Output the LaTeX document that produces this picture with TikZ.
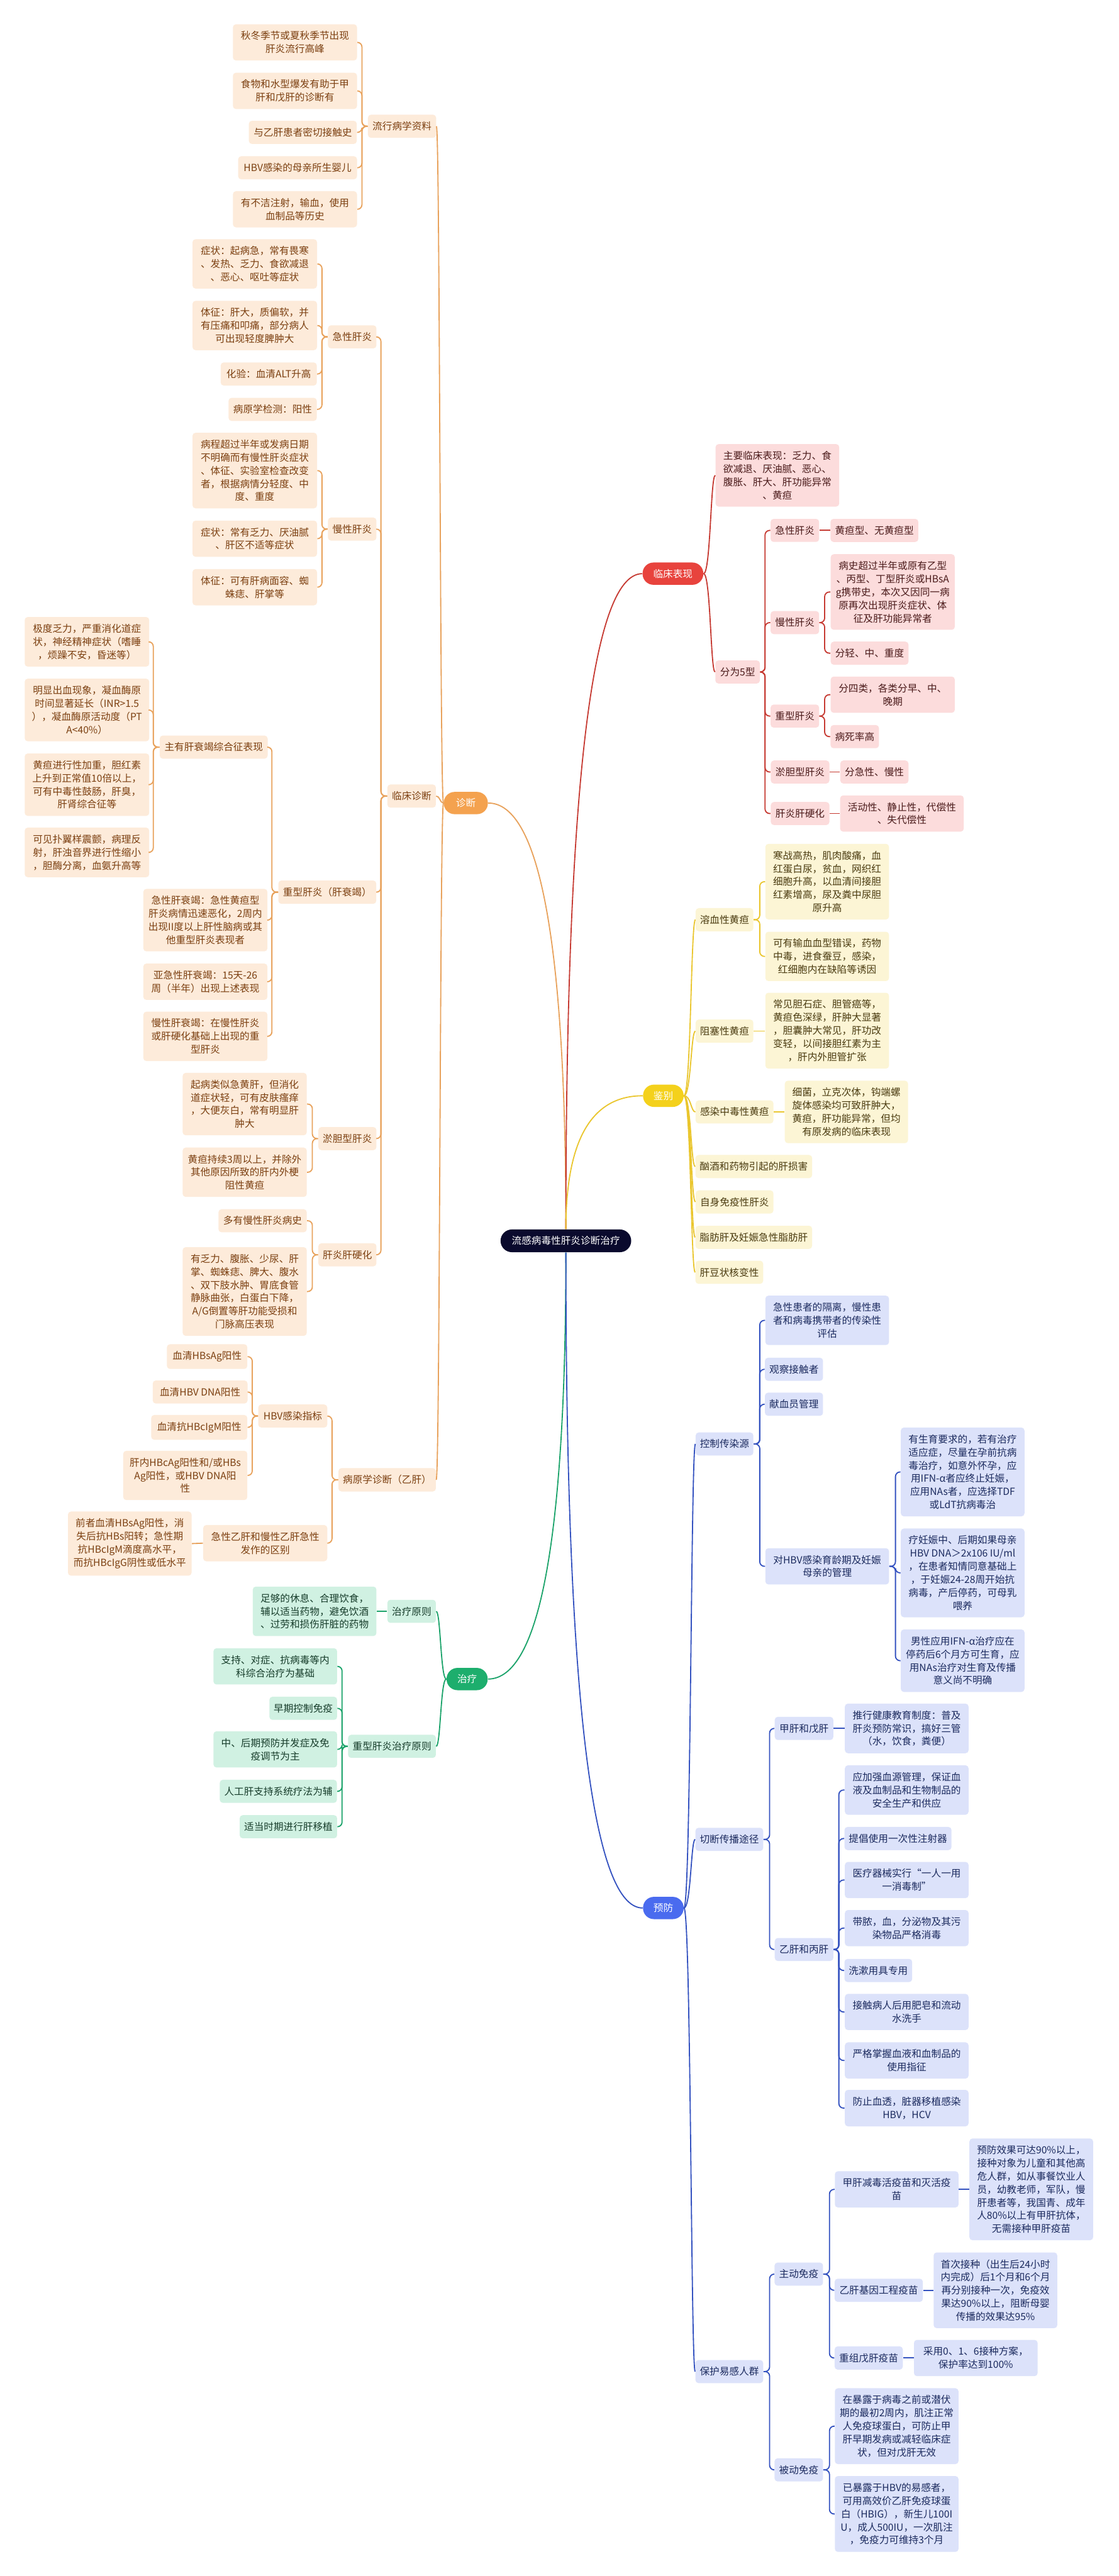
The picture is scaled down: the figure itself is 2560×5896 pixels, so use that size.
\documentclass[tikz,border=0pt]{standalone}
\usepackage{fontspec}
\setmainfont{Noto Sans CJK SC}
\usetikzlibrary{calc}
\newcommand\mmfs{\fontsize{6.4pt}{8.54pt}\selectfont}
\definecolor{oF}{HTML}{FDEBDA}\definecolor{oT}{HTML}{7B3F10}\definecolor{oL}{HTML}{E8A25C}\definecolor{oN}{HTML}{F4A24F}
\definecolor{rF}{HTML}{FCDCDC}\definecolor{rT}{HTML}{4A1A1A}\definecolor{rL}{HTML}{C63A32}\definecolor{rN}{HTML}{E8433D}
\definecolor{yF}{HTML}{FCF5D5}\definecolor{yT}{HTML}{4A3B10}\definecolor{yL}{HTML}{EAC62E}\definecolor{yN}{HTML}{F4D11C}
\definecolor{gF}{HTML}{D0F1E2}\definecolor{gT}{HTML}{173D2B}\definecolor{gL}{HTML}{1BA36A}\definecolor{gN}{HTML}{1DAE6D}
\definecolor{bF}{HTML}{DCE2FA}\definecolor{bT}{HTML}{1B2A5E}\definecolor{bL}{HTML}{3452C0}\definecolor{bN}{HTML}{4A6BEF}
\definecolor{rootC}{HTML}{0A0A2D}
\tikzset{
  wd/.style={minimum width=#1*0.01cm},
  basebox/.style={font=\mmfs, align=center, inner xsep=0pt, inner ysep=0.16cm, minimum height=0.51cm, rounded corners=2pt},
  ob/.style={basebox, fill=oF, text=oT},
  rb/.style={basebox, fill=rF, text=rT},
  yb/.style={basebox, fill=yF, text=yT},
  gb/.style={basebox, fill=gF, text=gT},
  bb/.style={basebox, fill=bF, text=bT},
  pill/.style={font=\mmfs, align=center, inner xsep=0pt, inner ysep=0pt, minimum height=0.51cm, rounded corners=0.25cm, text=white},
  oln/.style={draw=oL, line width=0.75pt, rounded corners=3pt},
  rln/.style={draw=rL, line width=0.75pt, rounded corners=3pt},
  yln/.style={draw=yL, line width=0.75pt, rounded corners=3pt},
  gln/.style={draw=gL, line width=0.75pt, rounded corners=3pt},
  bln/.style={draw=bL, line width=0.75pt, rounded corners=3pt},
}
\begin{document}
\begin{tikzpicture}[x=0.01cm,y=-0.01cm]
\fill[white] (0,0) rectangle (2560,5896);
\useasboundingbox (0,0) rectangle (2560,5896);

% root
\node[pill, fill=rootC, wd=299, minimum height=0.52cm, rounded corners=0.26cm] (root) at (1295,2840) {流感病毒性肝炎诊断治疗};

% ===== 诊断 (orange)
\node[pill, fill=oN, wd=101] (zd) at (1066,1838) {诊断};
\node[ob, wd=156] (dx) at (920,289) {流行病学资料};
\node[ob, wd=284] (e1) at (675,97) {秋冬季节或夏秋季节出现\\肝炎流行高峰};
\node[ob, wd=284] (e2) at (675,208) {食物和水型爆发有助于甲\\肝和戊肝的诊断有};
\node[ob, wd=247] (e3) at (693,303) {与乙肝患者密切接触史};
\node[ob, wd=272] (e4) at (681,384) {HBV感染的母亲所生婴儿};
\node[ob, wd=284] (e5) at (675,479) {有不洁注射，输血，使用\\血制品等历史};
\node[ob, wd=111] (lczd) at (942,1822) {临床诊断};
\node[ob, wd=111] (jx) at (806,771) {急性肝炎};
\node[ob, wd=285] (a1) at (583,604) {症状：起病急，常有畏寒\\、发热、乏力、食欲减退\\、恶心、呕吐等症状};
\node[ob, wd=285] (a2) at (583,745) {体征：肝大，质偏软，并\\有压痛和叩痛，部分病人\\可出现轻度脾肿大};
\node[ob, wd=220] (a3) at (615,856) {化验：血清ALT升高};
\node[ob, wd=202] (a4) at (624,937) {病原学检测：阳性};
\node[ob, wd=111] (mx) at (806,1211) {慢性肝炎};
\node[ob, wd=285] (c1) at (583,1077) {病程超过半年或发病日期\\不明确而有慢性肝炎症状\\、体征、实验室检查改变\\者，根据病情分轻度、中\\度、重度};
\node[ob, wd=285] (c2) at (583,1233) {症状：常有乏力、厌油腻\\、肝区不适等症状};
\node[ob, wd=285] (c3) at (583,1344) {体征：可有肝病面容、蜘\\蛛痣、肝掌等};
\node[ob, wd=224] (zx) at (749,2042) {重型肝炎（肝衰竭）};
\node[ob, wd=247] (zy) at (489,1710) {主有肝衰竭综合征表现};
\node[ob, wd=285] (l1) at (199,1469) {极度乏力，严重消化道症\\状，神经精神症状（嗜睡\\，烦躁不安，昏迷等）};
\node[ob, wd=285] (l2) at (199,1625) {明显出血现象，凝血酶原\\时间显著延长（INR>1.5\\），凝血酶原活动度（PT\\A<40\%）};
\node[ob, wd=285] (l3) at (199,1796) {黄疸进行性加重，胆红素\\上升到正常值10倍以上，\\可有中毒性鼓肠，肝臭，\\肝肾综合征等};
\node[ob, wd=285] (l4) at (199,1951) {可见扑翼样震颤，病理反\\射，肝浊音界进行性缩小\\，胆酶分离，血氨升高等};
\node[ob, wd=284] (s1) at (470,2106) {急性肝衰竭：急性黄疸型\\肝炎病情迅速恶化，2周内\\出现II度以上肝性脑病或其\\他重型肝炎表现者};
\node[ob, wd=284] (s2) at (470,2247) {亚急性肝衰竭：15天-26\\周（半年）出现上述表现};
\node[ob, wd=284] (s3) at (470,2372) {慢性肝衰竭：在慢性肝炎\\或肝硬化基础上出现的重\\型肝炎};
\node[ob, wd=133] (yd) at (795,2606) {淤胆型肝炎};
\node[ob, wd=284] (ch1) at (560,2527) {起病类似急黄肝，但消化\\道症状轻，可有皮肤瘙痒\\，大便灰白，常有明显肝\\肿大};
\node[ob, wd=284] (ch2) at (560,2683) {黄疸持续3周以上，并除外\\其他原因所致的肝内外梗\\阻性黄疸};
\node[ob, wd=133] (yh) at (795,2872) {肝炎肝硬化};
\node[ob, wd=202] (lc1) at (601,2794) {多有慢性肝炎病史};
\node[ob, wd=284] (lc2) at (560,2956) {有乏力、腹胀、少尿、肝\\掌、蜘蛛痣、脾大、腹水\\、双下肢水肿、胃底食管\\静脉曲张，白蛋白下降，\\A/G倒置等肝功能受损和\\门脉高压表现};
\node[ob, wd=223] (byx) at (886,3387) {病原学诊断（乙肝）};
\node[ob, wd=158] (hbv) at (670,3241) {HBV感染指标};
\node[ob, wd=184] (h1) at (474,3105) {血清HBsAg阳性};
\node[ob, wd=217] (h2) at (458,3186) {血清HBV DNA阳性};
\node[ob, wd=220] (h3) at (456,3267) {血清抗HBcIgM阳性};
\node[ob, wd=284] (h4) at (424,3377) {肝内HBcAg阳性和/或HBs\\Ag阳性，或HBV DNA阳\\性};
\node[ob, wd=284] (jyb) at (607,3532) {急性乙肝和慢性乙肝急性\\发作的区别};
\node[ob, wd=283] (qz) at (297,3533) {前者血清HBsAg阳性，消\\失后抗HBs阳转；急性期\\抗HBcIgM滴度高水平，\\而抗HBcIgG阴性或低水平};

% ===== 治疗 (green)
\node[pill, fill=gN, wd=94] (zl) at (1069,3843) {治疗};
\node[gb, wd=111] (zlyz) at (942,3688) {治疗原则};
\node[gb, wd=283] (t1) at (720,3688) {足够的休息、合理饮食，\\辅以适当药物，避免饮酒\\、过劳和损伤肝脏的药物};
\node[gb, wd=201] (zxzl) at (897,3997) {重型肝炎治疗原则};
\node[gb, wd=283] (r1) at (630,3814) {支持、对症、抗病毒等内\\科综合治疗为基础};
\node[gb, wd=155] (r2) at (694,3910) {早期控制免疫};
\node[gb, wd=283] (r3) at (630,4004) {中、后期预防并发症及免\\疫调节为主};
\node[gb, wd=268] (r4) at (637,4100) {人工肝支持系统疗法为辅};
\node[gb, wd=223] (r5) at (660,4181) {适当时期进行肝移植};

% ===== 临床表现 (red)
\node[pill, fill=rN, wd=139] (lcbx) at (1540,1313) {临床表现};
\node[rb, wd=283] (k1) at (1779,1088) {主要临床表现：乏力、食\\欲减退、厌油腻、恶心、\\腹胀、肝大、肝功能异常\\、黄疸};
\node[rb, wd=102] (fw) at (1688,1538) {分为5型};
\node[rb, wd=111] (kj) at (1819,1214) {急性肝炎};
\node[rb, wd=201] (kj1) at (2001,1214) {黄疸型、无黄疸型};
\node[rb, wd=111] (km) at (1819,1425) {慢性肝炎};
\node[rb, wd=284] (kc1) at (2043,1355) {病史超过半年或原有乙型\\、丙型、丁型肝炎或HBsA\\g携带史，本次又因同一病\\原再次出现肝炎症状、体\\征及肝功能异常者};
\node[rb, wd=178] (kc2) at (1990,1495) {分轻、中、重度};
\node[rb, wd=111] (kz) at (1819,1639) {重型肝炎};
\node[rb, wd=284] (ks1) at (2043,1590) {分四类，各类分早、中、\\晚期};
\node[rb, wd=111] (ks2) at (1956,1686) {病死率高};
\node[rb, wd=134] (ky) at (1831,1767) {淤胆型肝炎};
\node[rb, wd=156] (ky1) at (2001,1767) {分急性、慢性};
\node[rb, wd=134] (kg) at (1831,1862) {肝炎肝硬化};
\node[rb, wd=283] (kg1) at (2064,1862) {活动性、静止性，代偿性\\、失代偿性};

% ===== 鉴别 (yellow)
\node[pill, fill=yN, wd=93] (jb) at (1518,2508) {鉴别};
\node[yb, wd=132] (rx) at (1658,2105) {溶血性黄疸};
\node[yb, wd=283] (y1) at (1893,2018) {寒战高热，肌肉酸痛，血\\红蛋白尿，贫血，网织红\\细胞升高，以血清间接胆\\红素增高，尿及粪中尿胆\\原升高};
\node[yb, wd=283] (y2) at (1893,2189) {可有输血血型错误，药物\\中毒，进食蚕豆，感染，\\红细胞内在缺陷等诱因};
\node[yb, wd=132] (zs) at (1658,2360) {阻塞性黄疸};
\node[yb, wd=283] (y3) at (1893,2359) {常见胆石症、胆管癌等，\\黄疸色深绿，肝肿大显著\\，胆囊肿大常见，肝功改\\变轻，以间接胆红素为主\\，肝内外胆管扩张};
\node[yb, wd=178] (gr) at (1681,2545) {感染中毒性黄疸};
\node[yb, wd=282] (y4) at (1937,2545) {细菌，立克次体，钩端螺\\旋体感染均可致肝肿大，\\黄疸，肝功能异常，但均\\有原发病的临床表现};
\node[yb, wd=267] (xj) at (1725,2670) {酗酒和药物引起的肝损害};
\node[yb, wd=178] (zsm) at (1681,2751) {自身免疫性肝炎};
\node[yb, wd=267] (zf) at (1725,2832) {脂肪肝及妊娠急性脂肪肝};
\node[yb, wd=155] (gd) at (1669,2912) {肝豆状核变性};

% ===== 预防 (blue)
\node[pill, fill=bN, wd=93] (yf) at (1518,4367) {预防};
\node[bb, wd=132] (kz2) at (1658,3305) {控制传染源};
\node[bb, wd=283] (p1) at (1893,3022) {急性患者的隔离，慢性患\\者和病毒携带者的传染性\\评估};
\node[bb, wd=133] (p2) at (1817,3134) {观察接触者};
\node[bb, wd=133] (p3) at (1817,3214) {献血员管理};
\node[bb, wd=283] (p4) at (1893,3585) {对HBV感染育龄期及妊娠\\母亲的管理};
\node[bb, wd=283] (p4a) at (2203,3369) {有生育要求的，若有治疗\\适应症，尽量在孕前抗病\\毒治疗，如意外怀孕，应\\用IFN-α者应终止妊娠，\\应用NAs者，应选择TDF\\或LdT抗病毒治};
\node[bb, wd=283] (p4b) at (2203,3600) {疗妊娠中、后期如果母亲\\HBV DNA＞2x106 IU/ml\\，在患者知情同意基础上\\，于妊娠24-28周开始抗\\病毒，产后停药，可母乳\\喂养};
\node[bb, wd=283] (p4c) at (2203,3801) {男性应用IFN-α治疗应在\\停药后6个月方可生育，应\\用NAs治疗对生育及传播\\意义尚不明确};
\node[bb, wd=155] (qd) at (1669,4210) {切断传播途径};
\node[bb, wd=134] (jw) at (1840,3956) {甲肝和戊肝};
\node[bb, wd=283] (jw1) at (2075,3956) {推行健康教育制度：普及\\肝炎预防常识，搞好三管\\（水，饮食，粪便）};
\node[bb, wd=134] (ybg) at (1840,4462) {乙肝和丙肝};
\node[bb, wd=283] (b1) at (2075,4097) {应加强血源管理，保证血\\液及血制品和生物制品的\\安全生产和供应};
\node[bb, wd=245] (b2) at (2055,4208) {提倡使用一次性注射器};
\node[bb, wd=283] (b3) at (2075,4303) {医疗器械实行“一人一用\\一消毒制”};
\node[bb, wd=283] (b4) at (2075,4413) {带脓，血，分泌物及其污\\染物品严格消毒};
\node[bb, wd=155] (b5) at (2010,4510) {洗漱用具专用};
\node[bb, wd=283] (b6) at (2075,4605) {接触病人后用肥皂和流动\\水洗手};
\node[bb, wd=283] (b7) at (2075,4716) {严格掌握血液和血制品的\\使用指征};
\node[bb, wd=283] (b8) at (2075,4825) {防止血透，脏器移植感染\\HBV，HCV};
\node[bb, wd=155] (bh) at (1669,5428) {保护易感人群};
\node[bb, wd=111] (zd2) at (1828,5205) {主动免疫};
\node[bb, wd=283] (v1a) at (2052,5011) {甲肝减毒活疫苗和灭活疫\\苗};
\node[bb, wd=283] (v1) at (2360,5011) {预防效果可达90\%以上，\\接种对象为儿童和其他高\\危人群，如从事餐饮业人\\员，幼教老师，军队，慢\\肝患者等，我国青、成年\\人80\%以上有甲肝抗体，\\无需接种甲肝疫苗};
\node[bb, wd=202] (v2a) at (2011,5242) {乙肝基因工程疫苗};
\node[bb, wd=283] (v2) at (2278,5242) {首次接种（出生后24小时\\内完成）后1个月和6个月\\再分别接种一次，免疫效\\果达90\%以上，阻断母婴\\传播的效果达95\%};
\node[bb, wd=156] (v3a) at (1988,5397) {重组戊肝疫苗};
\node[bb, wd=283] (v3) at (2233,5397) {采用0、1、6接种方案，\\保护率达到100\%};
\node[bb, wd=111] (bd) at (1828,5653) {被动免疫};
\node[bb, wd=283] (pi1) at (2052,5553) {在暴露于病毒之前或潜伏\\期的最初2周内，肌注正常\\人免疫球蛋白，可防止甲\\肝早期发病或减轻临床症\\状，但对戊肝无效};
\node[bb, wd=283] (pi2) at (2052,5754) {已暴露于HBV的易感者，\\可用高效价乙肝免疫球蛋\\白（HBIG），新生儿100I\\U，成人500IU，一次肌注\\，免疫力可维持3个月};

% ===== root curves
\coordinate (q1) at (root.north |- zd.east);
\draw[oln] (root.north) .. controls ($(root.north)!0.667!(q1)$) and ($(zd.east)!0.667!(q1)$) .. (zd.east);
\coordinate (q2) at (root.north |- lcbx.west);
\draw[rln] (root.north) .. controls ($(root.north)!0.667!(q2)$) and ($(lcbx.west)!0.667!(q2)$) .. (lcbx.west);
\coordinate (q3) at (root.north |- jb.west);
\draw[yln] (root.north) .. controls ($(root.north)!0.667!(q3)$) and ($(jb.west)!0.667!(q3)$) .. (jb.west);
\coordinate (q4) at (root.south |- zl.east);
\draw[gln] (root.south) .. controls ($(root.south)!0.667!(q4)$) and ($(zl.east)!0.667!(q4)$) .. (zl.east);
\coordinate (q5) at (root.south |- yf.west);
\draw[bln] (root.south) .. controls ($(root.south)!0.667!(q5)$) and ($(yf.west)!0.667!(q5)$) .. (yf.west);

% ===== level-1 trunks
\coordinate (zdb) at ($(zd.west)+(-8,0)$);
\foreach \c in {dx,lczd,byx} \draw[oln] (zd.west) .. controls (zdb) and (zdb |- \c.east) .. (\c.east);
\coordinate (zlb) at ($(zl.west)+(-13,0)$);
\foreach \c in {zlyz,zxzl} \draw[gln] (zl.west) .. controls (zlb) and (zlb |- \c.east) .. (\c.east);
\coordinate (lcb) at ($(lcbx.east)+(16,0)$);
\foreach \c in {k1,fw} \draw[rln] (lcbx.east) .. controls (lcb) and (lcb |- \c.west) .. (\c.west);
\coordinate (jbb) at ($(jb.east)+(16,0)$);
\foreach \c in {rx,zs,gr,xj,zsm,zf,gd} \draw[yln] (jb.east) .. controls (jbb) and (jbb |- \c.west) .. (\c.west);
\coordinate (yfb) at ($(yf.east)+(16,0)$);
\foreach \c in {kz2,qd,bh} \draw[bln] (yf.east) .. controls (yfb) and (yfb |- \c.west) .. (\c.west);

% ===== deeper brackets (left)
\foreach \c in {e1,e2,e3,e4,e5} \draw[oln] (dx.west) -- ++(-13,0) |- (\c.east);
\foreach \c in {jx,mx,zx,yd,yh} \draw[oln] (lczd.west) -- ++(-14,0) |- (\c.east);
\foreach \c in {a1,a2,a3,a4} \draw[oln] (jx.west) -- ++(-13,0) |- (\c.east);
\foreach \c in {c1,c2,c3} \draw[oln] (mx.west) -- ++(-13,0) |- (\c.east);
\foreach \c in {zy,s1,s2,s3} \draw[oln] (zx.west) -- ++(-14,0) |- (\c.east);
\foreach \c in {l1,l2,l3,l4} \draw[oln] (zy.west) -- ++(-14,0) |- (\c.east);
\foreach \c in {ch1,ch2} \draw[oln] (yd.west) -- ++(-13,0) |- (\c.east);
\foreach \c in {lc1,lc2} \draw[oln] (yh.west) -- ++(-13,0) |- (\c.east);
\foreach \c in {hbv,jyb} \draw[oln] (byx.west) -- ++(-14,0) |- (\c.east);
\foreach \c in {h1,h2,h3,h4} \draw[oln] (hbv.west) -- ++(-13,0) |- (\c.east);
\draw[oln] (jyb.west) -- (qz.east);
\draw[gln] (zlyz.west) -- (t1.east);
\foreach \c in {r1,r2,r3,r4,r5} \draw[gln] (zxzl.west) -- ++(-13,0) |- (\c.east);

% ===== deeper brackets (right)
\foreach \c in {kj,km,kz,ky,kg} \draw[rln] (fw.east) -- ++(11,0) |- (\c.west);
\draw[rln] (kj.east) -- (kj1.west);
\foreach \c in {kc1,kc2} \draw[rln] (km.east) -- ++(12,0) |- (\c.west);
\foreach \c in {ks1,ks2} \draw[rln] (kz.east) -- ++(12,0) |- (\c.west);
\draw[rln] (ky.east) -- (ky1.west);
\draw[rln] (kg.east) -- (kg1.west);
\foreach \c in {y1,y2} \draw[yln] (rx.east) -- ++(14,0) |- (\c.west);
\draw[yln] (zs.east) -- (zs.east -| y3.west);
\draw[yln] (gr.east) -- (y4.west);
\foreach \c in {p1,p2,p3,p4} \draw[bln] (kz2.east) -- ++(14,0) |- (\c.west);
\foreach \c in {p4a,p4b,p4c} \draw[bln] (p4.east) -- ++(14,0) |- (\c.west);
\foreach \c in {jw,ybg} \draw[bln] (qd.east) -- ++(14,0) |- (\c.west);
\draw[bln] (jw.east) -- (jw1.west);
\foreach \c in {b1,b2,b3,b4,b5,b6,b7,b8} \draw[bln] (ybg.east) -- ++(12,0) |- (\c.west);
\foreach \c in {zd2,bd} \draw[bln] (bh.east) -- ++(14,0) |- (\c.west);
\foreach \c in {v1a,v2a,v3a} \draw[bln] (zd2.east) -- ++(14,0) |- (\c.west);
\draw[bln] (v1a.east) -- (v1.west);
\draw[bln] (v2a.east) -- (v2.west);
\draw[bln] (v3a.east) -- (v3.west);
\foreach \c in {pi1,pi2} \draw[bln] (bd.east) -- ++(14,0) |- (\c.west);
\end{tikzpicture}
\end{document}
